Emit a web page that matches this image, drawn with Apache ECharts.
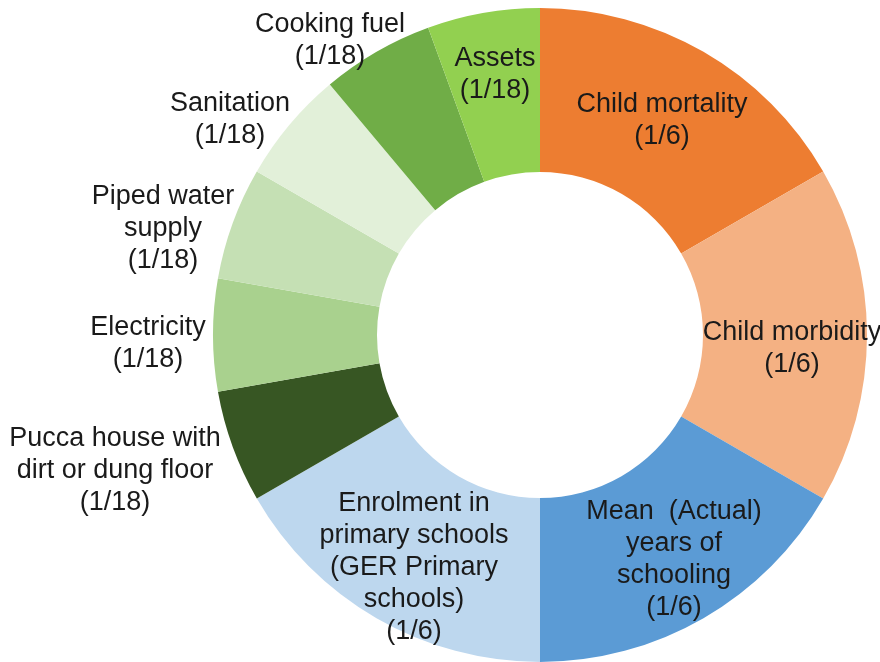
<!DOCTYPE html>
<html>
<head>
<meta charset="utf-8">
<title>MPI indicator weights</title>
<script src="https://cdn.jsdelivr.net/npm/echarts@6/dist/echarts.min.js"></script>
<style>
  html, body { margin: 0; padding: 0; background: #ffffff; }
  #chart { width: 880px; height: 662px; }
</style>
</head>
<body>
<div id="chart"></div>
<script>
// Indicators, clockwise from 12 o'clock
const indicators = [
  'Child mortality',
  'Child morbidity',
  'Mean  (Actual)\nyears of\nschooling',
  'Enrolment in\nprimary schools\n(GER Primary\nschools)',
  'Pucca house with\ndirt or dung floor',
  'Electricity',
  'Piped water\nsupply',
  'Sanitation',
  'Cooking fuel',
  'Assets'
];

// Weight of each indicator, as printed and as a number
const weightText = ['1/6', '1/6', '1/6', '1/6', '1/18', '1/18', '1/18', '1/18', '1/18', '1/18'];
const weights = [1 / 6, 1 / 6, 1 / 6, 1 / 6, 1 / 18, 1 / 18, 1 / 18, 1 / 18, 1 / 18, 1 / 18];

// Slice colours
const sliceColors = [
  '#ED7D31', '#F4B183', '#5B9BD5', '#BDD7EE',
  '#375623', '#A9D18E', '#C5E0B4', '#E2F0D9', '#70AD47', '#92D050'
];

// Label shifts from the ring's mid-radius point (px)
const labelShift = [
  [-2, 0], [4, 14], [10, 10], [-2, 18],
  [-192, 51], [-144, 9], [-144, -22], [-120, -56], [-86, -80], [-2, -16]
];

const chart = echarts.init(document.getElementById('chart'), null, { renderer: 'canvas' });

chart.setOption({
  backgroundColor: '#ffffff',
  animation: false,
  series: [{
    type: 'pie',
    center: [540, 335],
    radius: [163, 327],
    startAngle: 90,
    clockwise: true,
    avoidLabelOverlap: false,
    itemStyle: { borderWidth: 0 },
    label: {
      show: true,
      position: 'inside',
      formatter: p => p.name + '\n(' + weightText[p.dataIndex] + ')',
      color: '#1a1a1a',
      fontFamily: '"Liberation Sans", Arial, sans-serif',
      fontSize: 27,
      lineHeight: 32,
      align: 'center',
      verticalAlign: 'middle'
    },
    labelLine: { show: false },
    labelLayout: p => ({
      dx: labelShift[p.dataIndex][0],
      dy: labelShift[p.dataIndex][1]
    }),
    emphasis: { disabled: true },
    data: indicators.map((name, i) => ({
      name: name,
      value: weights[i],
      itemStyle: { color: sliceColors[i] }
    }))
  }]
});
</script>
</body>
</html>
